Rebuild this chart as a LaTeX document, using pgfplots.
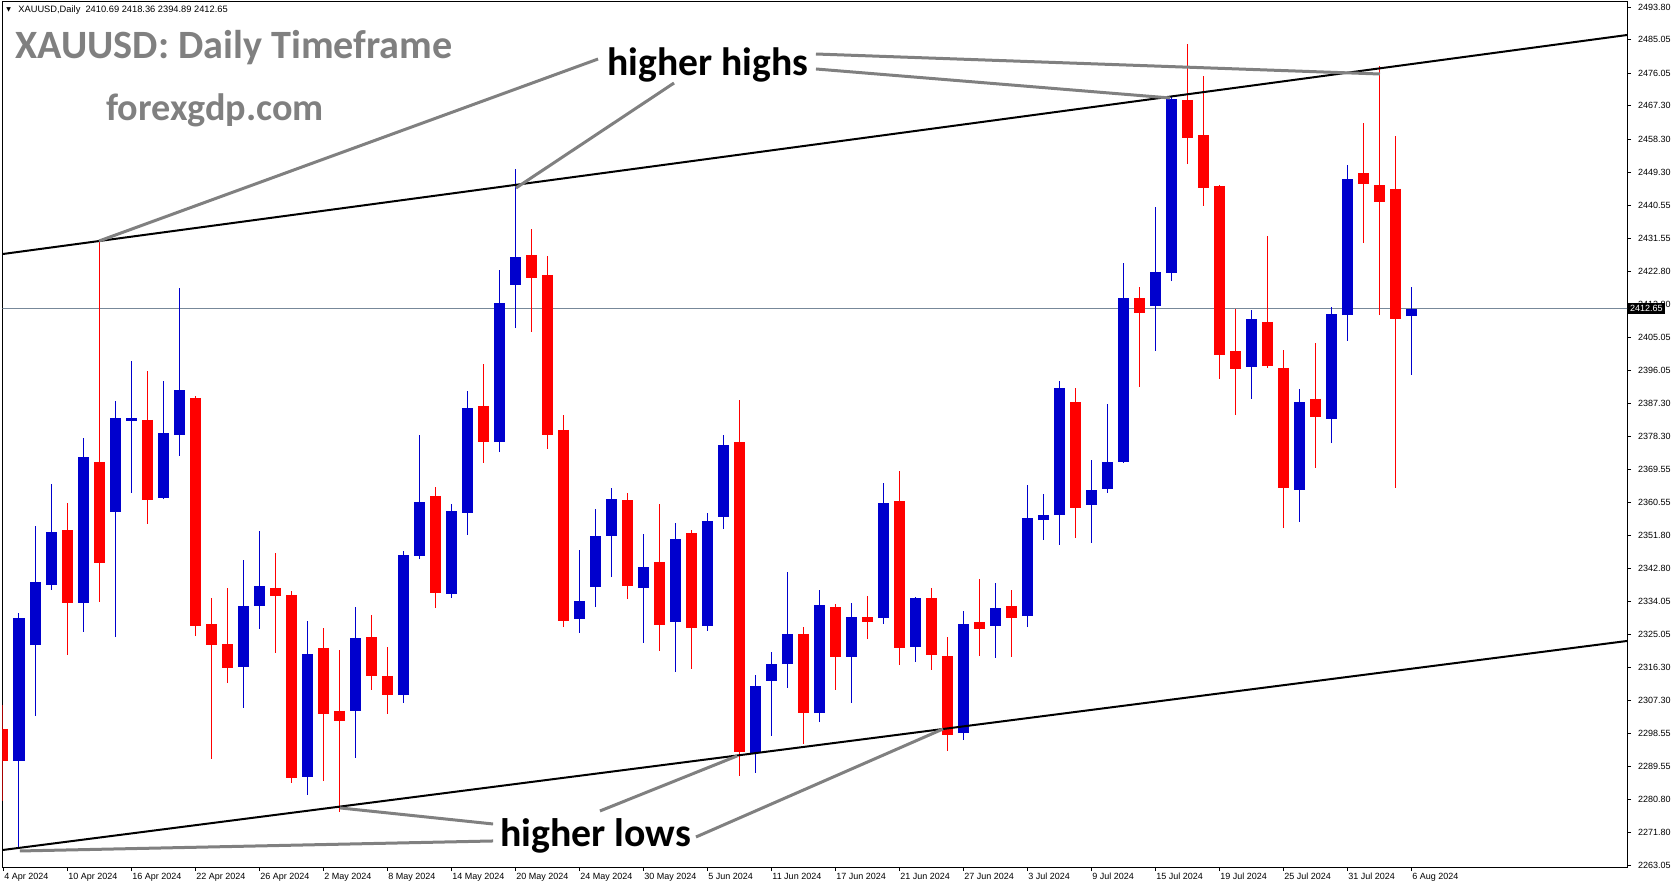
\documentclass[border=0pt]{standalone}
\usepackage{pgfplots}
\pgfplotsset{compat=1.18}
\usepackage{pgfplotstable}
\usepackage{fontspec}
\setmainfont{Liberation Sans}
\newfontfamily\calib{Carlito}
\newfontfamily\dejavu{DejaVu Sans}
\definecolor{mtblue}{RGB}{0,0,205}
\definecolor{mtred}{RGB}{255,0,0}
\definecolor{annot}{RGB}{128,128,128}
\definecolor{bidline}{RGB}{119,136,153}

% daily candles, i = trading day since 4 Apr 2024
\pgfplotstableread{
i O H L C
1 2291.00 2330.81 2267.87 2329.47
2 2322.20 2354.21 2303.11 2339.15
3 2338.34 2365.51 2337.00 2352.60
5 2333.50 2377.88 2325.70 2372.77
7 2357.98 2387.83 2324.35 2383.26
8 2382.45 2398.59 2363.09 2383.26
10 2361.74 2393.21 2361.47 2379.23
11 2378.69 2418.22 2373.04 2390.79
15 2316.29 2345.07 2305.26 2332.70
16 2332.70 2352.87 2326.51 2338.07
19 2286.70 2328.66 2281.86 2319.78
22 2304.45 2332.42 2291.81 2324.09
25 2308.75 2347.49 2306.61 2346.41
26 2346.14 2378.69 2345.33 2360.66
28 2335.92 2360.12 2334.85 2358.25
29 2357.71 2390.52 2351.79 2385.95
31 2376.80 2423.07 2374.11 2414.19
32 2419.03 2450.23 2407.46 2426.56
36 2329.19 2347.75 2325.43 2334.04
37 2337.80 2358.78 2332.42 2351.52
38 2351.52 2364.43 2340.49 2361.47
40 2337.54 2352.06 2322.74 2343.18
42 2328.39 2355.01 2314.94 2350.71
44 2327.32 2357.71 2325.97 2355.55
45 2356.63 2378.69 2353.40 2375.99
47 2293.15 2314.13 2287.78 2311.17
48 2312.52 2320.32 2297.73 2317.09
49 2317.09 2341.83 2310.64 2325.16
51 2303.91 2337.00 2301.49 2332.97
53 2318.98 2333.50 2306.61 2329.73
55 2329.47 2365.77 2327.85 2360.40
57 2321.66 2335.11 2317.63 2334.85
60 2298.53 2331.35 2296.65 2327.85
62 2327.32 2338.88 2318.71 2332.15
64 2330.00 2365.24 2327.04 2356.36
65 2355.82 2362.82 2350.45 2357.17
66 2357.17 2393.21 2349.10 2391.33
68 2359.86 2371.96 2349.64 2363.90
69 2364.16 2387.02 2363.09 2371.43
70 2371.43 2424.95 2371.16 2415.53
72 2413.38 2440.01 2401.28 2422.52
73 2422.25 2469.86 2420.10 2469.05
78 2396.98 2412.30 2388.37 2409.88
81 2363.90 2391.06 2355.29 2387.56
83 2382.99 2413.11 2376.53 2411.23
84 2410.96 2451.30 2403.97 2447.54
88 2410.69 2418.36 2394.89 2412.65
}\bull

\pgfplotstableread{
i O H L C
0 2299.61 2306.07 2280.25 2291.00
4 2353.13 2360.40 2319.52 2333.50
6 2371.43 2430.59 2333.77 2344.26
9 2382.72 2395.90 2354.75 2361.20
12 2388.64 2389.18 2324.62 2327.32
13 2327.85 2334.85 2291.54 2322.20
14 2322.47 2337.54 2311.98 2316.02
17 2337.54 2346.95 2320.05 2335.38
18 2335.65 2336.73 2285.09 2286.43
20 2321.40 2326.78 2285.62 2303.65
21 2304.45 2320.86 2277.29 2301.76
23 2324.35 2330.27 2310.10 2313.87
24 2313.87 2321.66 2303.65 2308.75
27 2362.28 2364.70 2332.15 2336.19
30 2386.49 2397.78 2371.16 2376.80
33 2427.10 2434.09 2406.39 2420.91
34 2421.72 2426.83 2374.92 2378.69
35 2380.03 2384.06 2327.04 2328.66
39 2361.20 2363.09 2334.57 2338.07
41 2344.53 2360.12 2320.59 2327.58
43 2352.33 2353.13 2315.75 2326.78
46 2376.80 2388.10 2286.97 2293.42
50 2325.16 2327.04 2295.57 2303.91
52 2332.42 2333.23 2310.10 2318.98
54 2329.73 2335.38 2323.81 2328.39
56 2360.93 2369.00 2316.82 2321.40
58 2334.85 2337.54 2315.48 2319.52
59 2319.24 2324.35 2293.69 2297.99
61 2328.39 2339.95 2319.24 2326.51
63 2332.70 2337.00 2318.98 2329.47
67 2387.56 2391.33 2350.98 2359.05
71 2415.53 2418.49 2391.60 2411.50
74 2468.79 2483.85 2451.57 2458.57
75 2459.37 2475.24 2440.28 2445.12
76 2445.66 2445.92 2393.75 2400.20
77 2401.28 2412.57 2384.06 2396.44
79 2409.08 2432.21 2396.71 2397.25
80 2396.71 2401.55 2353.67 2364.43
82 2388.37 2403.43 2369.81 2383.53
85 2449.15 2462.60 2430.32 2446.19
86 2445.92 2477.93 2410.96 2441.35
87 2444.85 2459.10 2364.43 2409.88
}\bear

\begin{document}
\begin{tikzpicture}
\path[use as bounding box] (0,0) rectangle (836.5pt,444pt);
\begin{axis}[
  at={(1.25pt,10.5pt)}, anchor=south west,
  scale only axis, width=812.25pt, height=432.5pt,
  xmin=-0.03125, xmax=101.5,
  ymin=2262.49, ymax=2495.15,
  axis line style={black, line width=0.5pt},
  clip mode=individual,
  tick align=outside, major tick length=2pt,
  tick style={black, line width=0.4pt},
  xtick pos=lower, ytick pos=right,
  xtick={0,4,...,88},
  xticklabels={4 Apr 2024,10 Apr 2024,16 Apr 2024,22 Apr 2024,26 Apr 2024,2 May 2024,8 May 2024,14 May 2024,20 May 2024,24 May 2024,30 May 2024,5 Jun 2024,11 Jun 2024,17 Jun 2024,21 Jun 2024,27 Jun 2024,3 Jul 2024,9 Jul 2024,15 Jul 2024,19 Jul 2024,25 Jul 2024,31 Jul 2024,6 Aug 2024},
  ytick={2263.05,2271.80,2280.80,2289.55,2298.55,2307.30,2316.30,2325.05,2334.05,2342.80,2351.80,2360.55,2369.55,2378.30,2387.30,2396.05,2405.05,2413.80,2422.80,2431.55,2440.55,2449.30,2458.30,2467.30,2476.05,2485.05,2493.80},
  yticklabel style={font=\fontsize{4.5}{5}\selectfont, /pgf/number format/.cd, fixed, fixed zerofill, precision=2, 1000 sep={}},
  xticklabel style={font=\fontsize{4.5}{5}\selectfont, anchor=north west, inner sep=0.5pt, yshift=-0.5pt},
  /pgf/number format/assume math mode=true,
]
% bid line
\addplot[bidline, line width=0.5pt] coordinates {(-1,2412.65) (102,2412.65)};
% wicks
\addplot[mtblue, line width=0.5pt, quiver={u=0, v=\thisrow{H}-\thisrow{L}}] table[x=i, y=L] {\bull};
\addplot[mtred, line width=0.5pt, quiver={u=0, v=\thisrow{H}-\thisrow{L}}] table[x=i, y=L] {\bear};
% bodies
\addplot[mtblue, line width=5.5pt, quiver={u=0, v=\thisrow{C}-\thisrow{O}}] table[x=i, y=O] {\bull};
\addplot[mtred, line width=5.5pt, quiver={u=0, v=\thisrow{C}-\thisrow{O}}] table[x=i, y=O] {\bear};
% channel lines
\addplot[black, line width=1pt] coordinates {(-1,2426.79) (102,2486.56)};
\addplot[black, line width=1pt] coordinates {(-1,2266.52) (102,2323.56)};
% annotation pointers
\addplot[annot, line width=1.5pt] coordinates {(37.19,2479.81) (6,2430.86)};
\addplot[annot, line width=1.5pt] coordinates {(41.94,2473.36) (32.06,2445.12)};
\addplot[annot, line width=1.5pt] coordinates {(50.81,2481.16) (86.06,2475.78)};
\addplot[annot, line width=1.5pt] coordinates {(50.81,2477.13) (72.94,2469.33)};
\addplot[annot, line width=1.5pt] coordinates {(1.06,2266.80) (30.63,2269.49)};
\addplot[annot, line width=1.5pt] coordinates {(30.63,2274.06) (21.06,2278.38)};
\addplot[annot, line width=1.5pt] coordinates {(37.31,2277.56) (45.88,2292.35)};
\addplot[annot, line width=1.5pt] coordinates {(43.31,2270.56) (58.75,2299.61)};
\node[font=\calib\bfseries\fontsize{19.8}{22}\selectfont, inner sep=0pt] at (axis cs:44.06,2478.33) {higher highs};
\node[font=\calib\bfseries\fontsize{19.9}{22}\selectfont, inner sep=0pt] at (axis cs:37.03,2270.8) {higher lows};
% current price tag
\node[anchor=west, fill=black, text=white, inner xsep=1pt, inner ysep=1.2pt, font=\fontsize{4.5}{5}\selectfont, xshift=0.3pt] at (axis cs:101.5,2412.65) {2412.65};
\end{axis}
\node[anchor=west, inner sep=0pt, font=\fontsize{4.65}{5}\selectfont] at (9pt,438.75pt) {XAUUSD,Daily\ \ 2410.69 2418.36 2394.89 2412.65};
\node[anchor=center, inner sep=0pt, font=\dejavu\fontsize{3}{3}\selectfont] at (4.3pt,439pt) {▼};
\node[anchor=base west, inner sep=0pt, text=annot, font=\calib\bfseries\fontsize{20.1}{22}\selectfont] at (7.5pt,414.5pt) {XAUUSD: Daily Timeframe};
\node[anchor=base west, inner sep=0pt, text=annot, font=\calib\bfseries\fontsize{19.1}{22}\selectfont] at (53pt,383.5pt) {forexgdp.com};
\end{tikzpicture}
\end{document}
